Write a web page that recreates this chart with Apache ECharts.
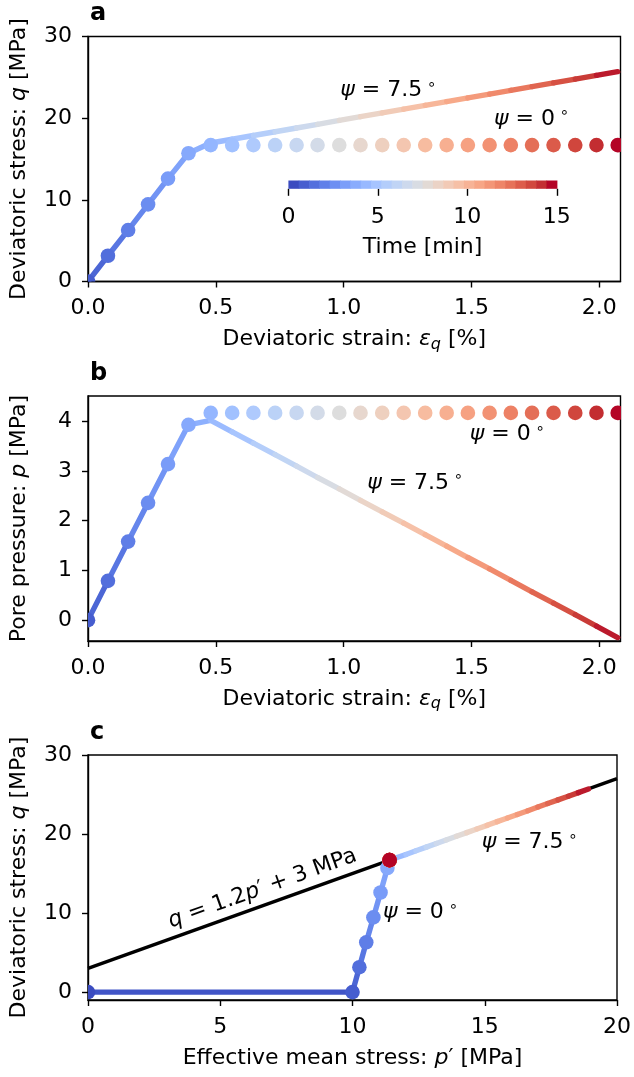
<!DOCTYPE html>
<html><head><meta charset="utf-8">
<script src="https://cdn.jsdelivr.net/npm/echarts@6/dist/echarts.min.js"></script>
<style>html,body{margin:0;padding:0;background:#fff;}#c{width:634px;height:1077px;}</style>
</head><body><div id="c"></div>
<script>
// ---------------- data ----------------
const timeMin = [0.58,1.15,1.73,2.31,2.88,3.46,4.04,4.62,5.19,5.77,6.35,6.92,7.50,8.08,8.65,9.23,9.81,10.38,10.96,11.54,12.12,12.69,13.27,13.85,14.42,15.0];
const strain = [0,0.078,0.157,0.235,0.313,0.393,0.480,0.564,0.647,0.732,0.816,0.898,0.983,1.066,1.151,1.235,1.319,1.403,1.486,1.571,1.654,1.737,1.821,1.906,1.989,2.072];
// psi = 0 deg
const qPsi0 = [0,3.15,6.3,9.45,12.6,15.7,16.7,16.7,16.7,16.7,16.7,16.7,16.7,16.7,16.7,16.7,16.7,16.7,16.7,16.7,16.7,16.7,16.7,16.7,16.7,16.7];
const pPsi0 = [0,0.79,1.58,2.36,3.14,3.93,4.17,4.17,4.17,4.17,4.17,4.17,4.17,4.17,4.17,4.17,4.17,4.17,4.17,4.17,4.17,4.17,4.17,4.17,4.17,4.17];
const pEffPsi0 = [10,10.26,10.52,10.79,11.06,11.32,11.40,11.40,11.40,11.40,11.40,11.40,11.40,11.40,11.40,11.40,11.40,11.40,11.40,11.40,11.40,11.40,11.40,11.40,11.40,11.40];
// psi = 7.5 deg
const qPsi75 = [0,3.15,6.3,9.45,12.6,15.7,16.96,17.42,17.88,18.34,18.80,19.25,19.72,20.18,20.64,21.10,21.57,22.03,22.48,22.95,23.41,23.86,24.32,24.79,25.24,25.70];
const pPsi75 = [0,0.79,1.58,2.36,3.14,3.93,4.02,3.79,3.56,3.33,3.10,2.87,2.64,2.41,2.18,1.95,1.72,1.49,1.26,1.03,0.80,0.57,0.34,0.11,-0.12,-0.35];
const pEffPsi75 = [10,10.26,10.52,10.79,11.06,11.32,11.63,12.02,12.40,12.79,13.17,13.54,13.93,14.32,14.70,15.09,15.47,15.86,16.23,16.63,17.01,17.38,17.77,18.16,18.54,18.92];
// state before consolidation (panel c)
const initP = 0, initQ = 0, initT = 0;
// failure line q = 1.2 p' + 3
const failureLine = [[0,3],[20,27]];
// tick labels
const ticksStrain = [0,0.5,1.0,1.5,2.0];
const ticksQ = [0,10,20,30];
const ticksP = [0,1,2,3,4];
const ticksPeff = [0,5,10,15,20];
const ticksTime = [0,5,10,15];
const cbarLevels = 26;
// annotations [x, y, angle label]
const annA = [[1.175,23.4,'7.5'],[1.735,19.9,'0']];
const annB = [[1.64,3.74,'0'],[1.28,2.76,'7.5']];
const annC = [[16.7,18.96,'7.5'],[12.57,10.1,'0']];
const failLabelPos = [6.6,13.1];

// ---------------- colormap ----------------
const CW=[[59,76,192],[68,90,204],[77,104,215],[87,117,225],[98,130,234],[108,142,241],[119,154,247],[130,165,251],[141,176,254],[152,185,255],[163,194,255],[174,201,253],[184,208,249],[194,213,244],[204,217,238],[213,219,230],[221,221,221],[229,216,209],[236,211,197],[241,204,184],[245,196,172],[247,187,159],[247,177,147],[247,166,134],[244,154,123],[241,141,111],[236,127,99],[229,112,88],[222,96,77],[213,80,66],[203,62,56],[192,40,47],[180,4,38]];
function coolwarm(f){f=Math.max(0,Math.min(1,f));const s=f*32;const i=Math.min(31,Math.floor(s));const r=s-i;const a=CW[i],b=CW[i+1];
 return 'rgb('+[0,1,2].map(j=>Math.round(a[j]+(b[j]-a[j])*r)).join(',')+')';}
const TMAX = 15;

// ---------------- helpers ----------------
const FF = 'DejaVu Sans';
const FS = 22;
const LW = 5.4, R = 7.3;
function pts(xs,ys,ts){return xs.map((x,i)=>[x,ys[i],ts[i]]);}
function segs(xs,ys,ts){const o=[];for(let i=0;i<xs.length-1;i++)o.push([xs[i],ys[i],xs[i+1],ys[i+1],(ts[i]+ts[i+1])/2]);return o;}
const rich = {
  n:{fontSize:FS,fontFamily:FF,color:'#000',lineHeight:26},
  i:{fontSize:FS,fontFamily:FF,color:'#000',lineHeight:26,fontStyle:'italic'},
  sub:{fontSize:16,fontFamily:FF,color:'#000',lineHeight:16,fontStyle:'italic',verticalAlign:'bottom'},
  sup:{fontSize:15,fontFamily:FF,color:'#000',lineHeight:15,verticalAlign:'top'}
};
function xAx(gi,min,max,ticks,fmt,name){return {type:'value',gridIndex:gi,min,max,
  axisLine:{show:true,onZero:false,lineStyle:{color:'#000',width:1.4}},
  axisTick:{show:true,inside:false,length:6,lineStyle:{color:'#000',width:1.4},customValues:ticks},
  axisLabel:{color:'#000',fontSize:FS,fontFamily:FF,margin:16,customValues:ticks,formatter:fmt},
  splitLine:{show:false},name,nameLocation:'middle',nameGap:45,nameTextStyle:{rich}};}
function yAx(gi,min,max,ticks,fmt,name){return {type:'value',gridIndex:gi,min,max,
  axisLine:{show:true,onZero:false,lineStyle:{color:'#000',width:1.4}},
  axisTick:{show:true,inside:false,length:6,lineStyle:{color:'#000',width:1.4},customValues:ticks},
  axisLabel:{color:'#000',fontSize:FS,fontFamily:FF,margin:16,customValues:ticks,formatter:fmt},
  splitLine:{show:false},name,nameLocation:'middle',nameGap:56,nameTextStyle:{rich}};}
function segSeries(gi,data){return {type:'custom',coordinateSystem:'cartesian2d',xAxisIndex:gi,yAxisIndex:gi,clip:true,z:3,
  encode:{x:[0,2],y:[1,3]},data,silent:true,
  renderItem:(p,api)=>{const a=api.coord([api.value(0),api.value(1)]),b=api.coord([api.value(2),api.value(3)]);
   return {type:'line',shape:{x1:a[0],y1:a[1],x2:b[0],y2:b[1]},style:{stroke:coolwarm(api.value(4)/TMAX),lineWidth:LW,lineCap:'round'}};}};}
function dotSeries(gi,data){return {type:'custom',coordinateSystem:'cartesian2d',xAxisIndex:gi,yAxisIndex:gi,clip:true,z:4,
  encode:{x:0,y:1},data,silent:true,
  renderItem:(p,api)=>{const a=api.coord([api.value(0),api.value(1)]);
   return {type:'circle',shape:{cx:a[0],cy:a[1],r:R},style:{fill:coolwarm(api.value(2)/TMAX)}};}};}
function annSeries(gi,data){return {type:'custom',coordinateSystem:'cartesian2d',xAxisIndex:gi,yAxisIndex:gi,z:6,
  encode:{x:0,y:1},data:data.map(d=>[d[0],d[1]]),silent:true,
  renderItem:(p,api)=>{const a=api.coord([api.value(0),api.value(1)]);
   return {type:'text',x:a[0],y:a[1],style:{text:'{i|ψ}{n| = '+data[p.dataIndex][2]+'}{sup| ∘}',rich,align:'center',verticalAlign:'middle',fill:'#000',fontSize:FS,fontFamily:FF}};}};}

const L=88,W=532.5,H=245;
const gridStyle={show:true,borderColor:'#000',borderWidth:1.4,backgroundColor:'transparent'};
const option={
 animation:false,
 grid:[
  Object.assign({left:L,top:36.5,width:W,height:H},gridStyle),
  Object.assign({left:L,top:396,width:W,height:H},gridStyle),
  Object.assign({left:L,top:755,width:W,height:H},gridStyle),
  {left:288.4,top:180.5,width:268.4,height:8.3}
 ],
 xAxis:[
  xAx(0,0,2.083,ticksStrain,v=>v.toFixed(1),'{n|Deviatoric strain: }{i|ε}{sub|q}{n| [%]}'),
  xAx(1,0,2.083,ticksStrain,v=>v.toFixed(1),'{n|Deviatoric strain: }{i|ε}{sub|q}{n| [%]}'),
  xAx(2,0,20,ticksPeff,v=>String(v),"{n|Effective mean stress: }{i|p}{n|′ [MPa]}"),
  {type:'value',gridIndex:3,min:0,max:15,axisLine:{show:false},
   axisTick:{show:true,inside:false,length:7,lineStyle:{color:'#000',width:1.4},customValues:ticksTime},
   axisLabel:{color:'#000',fontSize:FS,fontFamily:FF,margin:17,customValues:ticksTime},
   splitLine:{show:false},name:'Time [min]',nameLocation:'middle',nameGap:47.5,nameTextStyle:{color:'#000',fontSize:FS,fontFamily:FF}}
 ],
 yAxis:[
  yAx(0,0,30,ticksQ,v=>String(v),'{n|Deviatoric stress: }{i|q}{n| [MPa]}'),
  yAx(1,-0.42,4.51,ticksP,v=>String(v),'{n|Pore pressure: }{i|p}{n| [MPa]}'),
  yAx(2,-1,30,ticksQ,v=>String(v),'{n|Deviatoric stress: }{i|q}{n| [MPa]}'),
  {type:'value',gridIndex:3,min:0,max:1,show:false}
 ],
 graphic:[
  {type:'text',x:90,y:14,style:{text:'a',font:'bold 24px DejaVu Sans',fill:'#000',verticalAlign:'middle'}},
  {type:'text',x:90,y:374,style:{text:'b',font:'bold 24px DejaVu Sans',fill:'#000',verticalAlign:'middle'}},
  {type:'text',x:90,y:733,style:{text:'c',font:'bold 24px DejaVu Sans',fill:'#000',verticalAlign:'middle'}}
 ],
 series:[
  // panel a
  segSeries(0,segs(strain,qPsi75,timeMin)),
  dotSeries(0,pts(strain,qPsi0,timeMin)),
  annSeries(0,annA),
  // panel b
  segSeries(1,segs(strain,pPsi75,timeMin)),
  dotSeries(1,pts(strain,pPsi0,timeMin)),
  annSeries(1,annB),
  // panel c
  {type:'line',xAxisIndex:2,yAxisIndex:2,data:failureLine,showSymbol:false,symbol:'none',z:2,silent:true,
   lineStyle:{color:'#000',width:3.4},clip:true},
  segSeries(2,segs([initP].concat(pEffPsi75),[initQ].concat(qPsi75),[initT].concat(timeMin))),
  dotSeries(2,pts([initP].concat(pEffPsi0),[initQ].concat(qPsi0),[initT].concat(timeMin))),
  annSeries(2,annC),
  {type:'custom',coordinateSystem:'cartesian2d',xAxisIndex:2,yAxisIndex:2,z:6,silent:true,encode:{x:0,y:1},
   data:[failLabelPos],
   renderItem:(p,api)=>{const a=api.coord([api.value(0),api.value(1)]);
     const p1=api.coord(failureLine[0]),p2=api.coord(failureLine[1]);
     const ang=Math.atan2(-(p2[1]-p1[1]),p2[0]-p1[0]);
     return {type:'text',x:a[0],y:a[1],rotation:ang,style:{text:'{i|q}{n| = 1.2}{i|p}{n|′ + 3 MPa}',rich,align:'center',verticalAlign:'middle',fill:'#000',fontSize:FS,fontFamily:FF}};}},
  // colorbar
  {type:'custom',coordinateSystem:'cartesian2d',xAxisIndex:3,yAxisIndex:3,silent:true,encode:{x:[0,1]},
   data:Array.from({length:cbarLevels},(_,k)=>[k*TMAX/cbarLevels,(k+1)*TMAX/cbarLevels,k]),
   renderItem:(p,api)=>{const a=api.coord([api.value(0),1]),b=api.coord([api.value(1),0]);
     return {type:'rect',shape:{x:a[0],y:a[1],width:b[0]-a[0]+0.6,height:b[1]-a[1]},style:{fill:coolwarm(api.value(2)/(cbarLevels-1))}};}}
 ]
};
const chart=echarts.init(document.getElementById('c'),null,{renderer:'canvas'});
chart.setOption(option);
</script></body></html>
